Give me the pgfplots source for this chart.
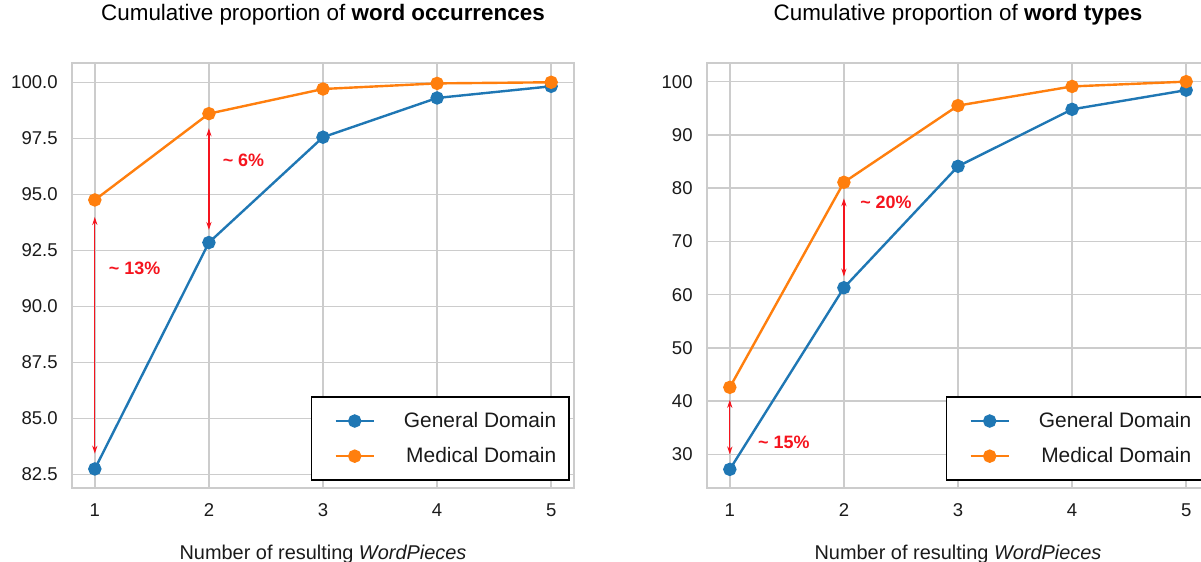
\documentclass[border=0pt]{standalone}
\usepackage{pgfplots}
\pgfplotsset{compat=1.18}
\usepackage{fontspec}
\setmainfont{Liberation Sans}
\usetikzlibrary{arrows.meta}
\definecolor{tblue}{HTML}{1F77B4}
\definecolor{torange}{HTML}{FF7F0E}
\definecolor{gridc}{HTML}{CCCCCC}
\definecolor{txt}{HTML}{1A1A1A}
\definecolor{annred}{HTML}{F5141E}
\tikzset{
  ann/.style={annred, line width=0.6bp, {Stealth[length=4bp,width=2.6bp]}-{Stealth[length=4bp,width=2.6bp]}},
  annt/.style={anchor=west, inner sep=0pt, text=annred, font=\bfseries\fontsize{9}{10}\selectfont},
  gen/.style={tblue, line width=1.2bp, mark=*, mark size=2.75bp, mark options={solid}},
  med/.style={torange, line width=1.2bp, mark=*, mark size=2.75bp, mark options={solid}},
}
\pgfplotsset{
  panel/.style={
    scale only axis, width=251bp, height=212.5bp,
    xmin=0.8, xmax=5.2, xtick={1,2,3,4,5},
    grid=major, major grid style={gridc, line width=0.75bp},
    axis line style={gridc, line width=1bp},
    tick style={draw=none},
    ticklabel style={font=\fontsize{9.3}{10}\selectfont, text=txt},
    /pgf/number format/assume math mode=true,
    xticklabel style={anchor=base, yshift=-14bp},
    yticklabel style={anchor=east, inner sep=0pt, xshift=-7bp},
    title style={at={(0.5,1)}, anchor=base, yshift=15.5bp, font=\fontsize{11.25}{13}\selectfont, text=black},
    xlabel style={at={(axis description cs:0.5,0)}, anchor=base, yshift=-35.5bp, font=\fontsize{10}{12}\selectfont, text=txt},
    xlabel={Number of resulting \textit{WordPieces}},
    legend style={at={(1,0)}, anchor=south east, xshift=-2bp, yshift=3.5bp,
      draw=black, line width=0.75bp, fill=white,
      inner xsep=6.5bp, inner ysep=7.5bp, row sep=8.5bp, column sep=14.5bp,
      font=\fontsize{10.5}{12}\selectfont, text=txt,
      nodes={inner sep=0pt}},
    legend cell align=right,
    legend image code/.code={\path[draw=none,fill=none] (0bp,-4bp) rectangle (0bp,4bp);
      \draw[mark repeat=2,mark phase=2,##1] plot coordinates {(5.5bp,0bp) (15bp,0bp) (24.5bp,0bp)};},
  },
}
\begin{document}
\begin{tikzpicture}
\useasboundingbox (0,0) rectangle (600.5bp,281bp);
\begin{axis}[panel, at={(36bp,37bp)}, anchor=south west,
  ymin=81.9, ymax=100.86, ytick={82.5,85,87.5,90,92.5,95,97.5,100},
  yticklabel style={/pgf/number format/.cd, fixed, fixed zerofill, precision=1},
  title={Cumulative proportion of \textbf{word occurrences}}]
\addplot[gen] coordinates {(1,82.75) (2,92.85) (3,97.55) (4,99.3) (5,99.82)};
\addlegendentry{General Domain}
\addplot[med] coordinates {(1,94.75) (2,98.6) (3,99.7) (4,99.95) (5,100.0)};
\addlegendentry{Medical Domain}
\draw[ann] (axis cs:1,93.99) -- (axis cs:1,83.43);
\draw[ann] (axis cs:2,97.95) -- (axis cs:2,93.41);
\node[annt] at (axis cs:1.12,91.72) {\textasciitilde\ 13\%};
\node[annt] at (axis cs:2.118,96.53) {\textasciitilde\ 6\%};
\end{axis}
\begin{axis}[panel, at={(353.5bp,37bp)}, anchor=south west,
  ymin=23.7, ymax=103.5, ytick={30,40,50,60,70,80,90,100},
  title={Cumulative proportion of \textbf{word types}}]
\addplot[gen] coordinates {(1,27.2) (2,61.3) (3,84.1) (4,94.8) (5,98.4)};
\addlegendentry{General Domain}
\addplot[med] coordinates {(1,42.6) (2,81.1) (3,95.5) (4,99.1) (5,100.0)};
\addlegendentry{Medical Domain}
\draw[ann] (axis cs:2,78.1) -- (axis cs:2,63.4);
\draw[ann] (axis cs:1,40.24) -- (axis cs:1,30.0);
\node[annt] at (axis cs:2.14,77.4) {\textasciitilde\ 20\%};
\node[annt] at (axis cs:1.245,32.3) {\textasciitilde\ 15\%};
\end{axis}
\end{tikzpicture}
\end{document}
